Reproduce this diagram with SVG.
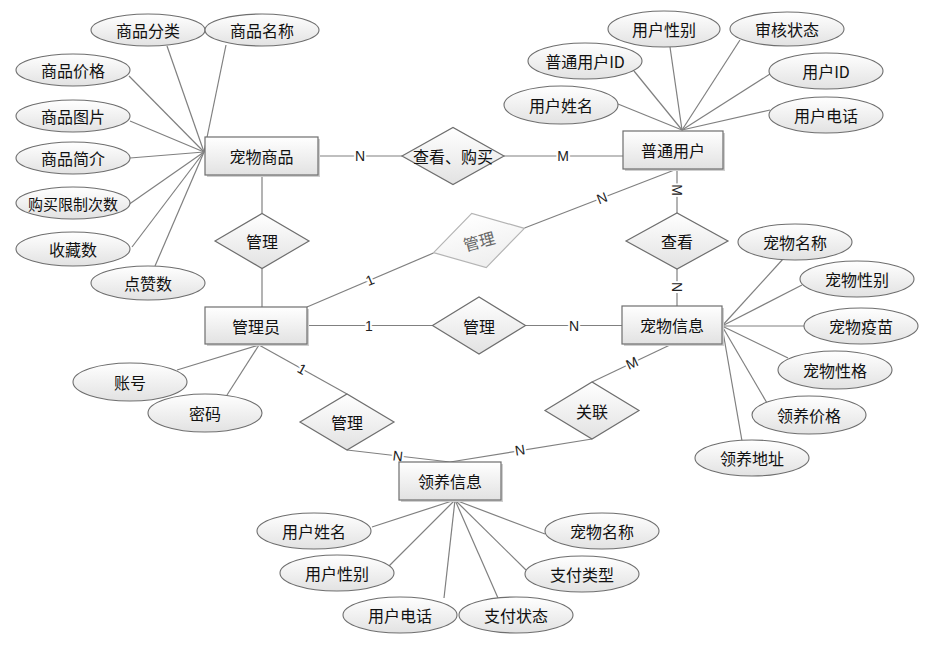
<svg xmlns="http://www.w3.org/2000/svg" width="932" height="660" viewBox="0 0 932 660">
<defs>
<linearGradient id="g" x1="0" y1="0" x2="0" y2="1">
<stop offset="0" stop-color="#ffffff"/>
<stop offset="1" stop-color="#e2e2e2"/>
</linearGradient>
<linearGradient id="g2" x1="0" y1="0" x2="0" y2="1">
<stop offset="0" stop-color="#ffffff"/>
<stop offset="1" stop-color="#eeeeee"/>
</linearGradient>
<style>
.ent rect.b{fill:url(#g);stroke:#6e6e6e;stroke-width:1.2}
.ent rect.s{fill:#cfcfcf}
.rel polygon{fill:url(#g);stroke:#6e6e6e;stroke-width:1.2}
.attr ellipse{fill:url(#g);stroke:#6e6e6e;stroke-width:1.1}
.t{font-family:"Noto Sans CJK SC","Noto Sans",sans-serif;font-size:16px;fill:#111;text-anchor:middle;dominant-baseline:central}
.conn line{stroke:#808080;stroke-width:1.2}
.lbl{font-family:"Liberation Sans",Arial,sans-serif;font-size:14px;fill:#222;text-anchor:middle;dominant-baseline:central;stroke:#fff;stroke-width:4;paint-order:stroke;stroke-linejoin:round}
</style>
</defs>
<rect width="932" height="660" fill="#fff"/>

<g id="connectors" class="conn">
<!-- goods attributes -->
<line x1="167" y1="46" x2="204" y2="152"/>
<line x1="226" y1="45" x2="204" y2="152"/>
<line x1="129" y1="76" x2="204" y2="152"/>
<line x1="130" y1="121" x2="204" y2="152"/>
<line x1="130" y1="158" x2="204" y2="152"/>
<line x1="128" y1="205" x2="204" y2="152"/>
<line x1="132" y1="247" x2="204" y2="152"/>
<line x1="155" y1="266" x2="204" y2="152"/>
<!-- user attributes -->
<line x1="670" y1="47" x2="682" y2="130"/>
<line x1="740" y1="40" x2="682" y2="130"/>
<line x1="634" y1="71" x2="682" y2="130"/>
<line x1="770" y1="74" x2="682" y2="130"/>
<line x1="618" y1="104" x2="682" y2="130"/>
<line x1="770" y1="110" x2="682" y2="130"/>
<!-- pet attributes -->
<line x1="783" y1="259" x2="722" y2="326"/>
<line x1="802" y1="285" x2="722" y2="326"/>
<line x1="804" y1="326" x2="722" y2="326"/>
<line x1="788" y1="358" x2="722" y2="326"/>
<line x1="767" y1="403" x2="722" y2="326"/>
<line x1="742" y1="441" x2="722" y2="326"/>
<!-- admin attributes -->
<line x1="177" y1="370" x2="259" y2="345"/>
<line x1="227" y1="395" x2="259" y2="345"/>
<!-- adopt attributes -->
<line x1="372" y1="527" x2="455" y2="500"/>
<line x1="389" y1="566" x2="455" y2="500"/>
<line x1="444" y1="598" x2="455" y2="500"/>
<line x1="498" y1="598" x2="455" y2="500"/>
<line x1="526" y1="570" x2="455" y2="500"/>
<line x1="545" y1="534" x2="455" y2="500"/>
<!-- relationships -->
<line x1="318" y1="156" x2="402" y2="156"/>
<line x1="504" y1="156" x2="623" y2="156"/>
<line x1="262" y1="175" x2="262" y2="213.5"/>
<line x1="262" y1="268.5" x2="262" y2="307"/>
<line x1="307" y1="307" x2="433.5" y2="253"/>
<line x1="524.5" y1="228" x2="677" y2="169"/>
<line x1="677" y1="169" x2="677" y2="213"/>
<line x1="677" y1="269" x2="677" y2="306"/>
<line x1="307" y1="325.5" x2="432.5" y2="325.5"/>
<line x1="525.5" y1="325.5" x2="622" y2="325.5"/>
<line x1="259" y1="345" x2="347" y2="394"/>
<line x1="347" y1="450" x2="450" y2="462"/>
<line x1="672" y1="344" x2="592" y2="382"/>
<line x1="592" y1="439" x2="450" y2="462"/>
<!-- cardinality labels -->
<text class="lbl" x="360" y="156">N</text>
<text class="lbl" x="563" y="156">M</text>
<text class="lbl" x="370" y="280" transform="rotate(-23 370 280)">1</text>
<text class="lbl" x="602" y="198" transform="rotate(-21 602 198)">N</text>
<text class="lbl" x="677" y="190" transform="rotate(90 677 190)">M</text>
<text class="lbl" x="677" y="287" transform="rotate(90 677 287)">N</text>
<text class="lbl" x="369" y="325.5">1</text>
<text class="lbl" x="574" y="325.5">N</text>
<text class="lbl" x="302" y="369" transform="rotate(29 302 369)">1</text>
<text class="lbl" x="398" y="456" transform="rotate(7 398 456)">N</text>
<text class="lbl" x="632" y="363" transform="rotate(-25 632 363)">M</text>
<text class="lbl" x="520" y="450" transform="rotate(-9 520 450)">N</text>
</g>

<!-- entities -->
<g id="e_goods" class="ent"><rect class="s" x="207" y="139" width="113" height="38"/><rect class="b" x="205" y="137" width="113" height="38"/><text class="t" x="261.5" y="156">宠物商品</text></g>
<g id="e_user" class="ent"><rect class="s" x="625" y="133" width="100" height="38"/><rect class="b" x="623" y="131" width="100" height="38"/><text class="t" x="673" y="150">普通用户</text></g>
<g id="e_admin" class="ent"><rect class="s" x="207" y="309" width="102" height="37"/><rect class="b" x="205" y="307" width="102" height="37"/><text class="t" x="256" y="325.5">管理员</text></g>
<g id="e_pet" class="ent"><rect class="s" x="624" y="308" width="100" height="38"/><rect class="b" x="622" y="306" width="100" height="38"/><text class="t" x="672" y="325">宠物信息</text></g>
<g id="e_adopt" class="ent"><rect class="s" x="401" y="464" width="102" height="38"/><rect class="b" x="399" y="462" width="102" height="38"/><text class="t" x="450" y="481">领养信息</text></g>

<!-- relationships -->
<g id="r_buy" class="rel"><polygon points="402,156 453,127.5 504,156 453,184.5"/><text class="t" x="453" y="156">查看、购买</text></g>
<g id="r_manage_goods" class="rel"><polygon points="215,241 262,213.5 309,241 262,268.5"/><text class="t" x="262" y="241">管理</text></g>
<g id="r_manage_user" transform="rotate(-15 479 240.5)"><polygon points="432,240.5 479,212.5 526,240.5 479,268.5" fill="url(#g2)" stroke="#b4b4b4" stroke-width="1.2"/><text class="t" x="479" y="240.5" style="fill:#666">管理</text></g>
<g id="r_view" class="rel"><polygon points="626,241 677,213 728,241 677,269"/><text class="t" x="677" y="241">查看</text></g>
<g id="r_manage_pet" class="rel"><polygon points="432.5,325.5 479,297 525.5,325.5 479,354"/><text class="t" x="479" y="325.5">管理</text></g>
<g id="r_manage_adopt" class="rel"><polygon points="300,422 347,394 394,422 347,450"/><text class="t" x="347" y="422">管理</text></g>
<g id="r_relate" class="rel"><polygon points="545,410.5 592,382 639,410.5 592,439"/><text class="t" x="592" y="410.5">关联</text></g>

<!-- goods attributes -->
<g id="a_goods_cat" class="attr"><ellipse cx="148" cy="30" rx="57" ry="16"/><text class="t" x="148" y="30">商品分类</text></g>
<g id="a_goods_name" class="attr"><ellipse cx="262" cy="30" rx="57" ry="16"/><text class="t" x="262" y="30">商品名称</text></g>
<g id="a_goods_price" class="attr"><ellipse cx="73" cy="70" rx="57" ry="16"/><text class="t" x="73" y="70">商品价格</text></g>
<g id="a_goods_img" class="attr"><ellipse cx="73" cy="116" rx="57" ry="16"/><text class="t" x="73" y="116">商品图片</text></g>
<g id="a_goods_desc" class="attr"><ellipse cx="73" cy="158" rx="57" ry="16"/><text class="t" x="73" y="158">商品简介</text></g>
<g id="a_goods_limit" class="attr"><ellipse cx="73" cy="203" rx="57" ry="16"/><text class="t" x="73" y="203" style="font-size:15px">购买限制次数</text></g>
<g id="a_goods_fav" class="attr"><ellipse cx="73" cy="249" rx="57" ry="17"/><text class="t" x="73" y="249">收藏数</text></g>
<g id="a_goods_like" class="attr"><ellipse cx="148" cy="283" rx="57" ry="17"/><text class="t" x="148" y="283">点赞数</text></g>

<!-- user attributes -->
<g id="a_user_gender" class="attr"><ellipse cx="664" cy="29" rx="56" ry="18"/><text class="t" x="664" y="29">用户性别</text></g>
<g id="a_user_audit" class="attr"><ellipse cx="787" cy="29" rx="57" ry="17"/><text class="t" x="787" y="29">审核状态</text></g>
<g id="a_user_nid" class="attr"><ellipse cx="585" cy="61" rx="57" ry="18"/><text class="t" x="585" y="61">普通用户ID</text></g>
<g id="a_user_id" class="attr"><ellipse cx="826" cy="71" rx="57" ry="18"/><text class="t" x="826" y="71">用户ID</text></g>
<g id="a_user_name" class="attr"><ellipse cx="561" cy="105" rx="57" ry="19"/><text class="t" x="561" y="105">用户姓名</text></g>
<g id="a_user_phone" class="attr"><ellipse cx="826" cy="115" rx="57" ry="18"/><text class="t" x="826" y="115">用户电话</text></g>

<!-- pet attributes -->
<g id="a_pet_name" class="attr"><ellipse cx="795" cy="242" rx="57" ry="18"/><text class="t" x="795" y="242">宠物名称</text></g>
<g id="a_pet_gender" class="attr"><ellipse cx="857" cy="279" rx="57" ry="18"/><text class="t" x="857" y="279">宠物性别</text></g>
<g id="a_pet_vaccine" class="attr"><ellipse cx="861" cy="326" rx="57" ry="18"/><text class="t" x="861" y="326">宠物疫苗</text></g>
<g id="a_pet_char" class="attr"><ellipse cx="835" cy="370" rx="57" ry="19"/><text class="t" x="835" y="370">宠物性格</text></g>
<g id="a_pet_price" class="attr"><ellipse cx="809" cy="415" rx="57" ry="19"/><text class="t" x="809" y="415">领养价格</text></g>
<g id="a_pet_addr" class="attr"><ellipse cx="752" cy="458" rx="57" ry="18"/><text class="t" x="752" y="458">领养地址</text></g>

<!-- admin attributes -->
<g id="a_admin_acc" class="attr"><ellipse cx="130" cy="382" rx="57" ry="19"/><text class="t" x="130" y="382">账号</text></g>
<g id="a_admin_pwd" class="attr"><ellipse cx="205" cy="413" rx="57" ry="19"/><text class="t" x="205" y="413">密码</text></g>

<!-- adopt attributes -->
<g id="a_adopt_uname" class="attr"><ellipse cx="314" cy="531" rx="57" ry="18"/><text class="t" x="314" y="531">用户姓名</text></g>
<g id="a_adopt_ugender" class="attr"><ellipse cx="337" cy="573" rx="57" ry="18"/><text class="t" x="337" y="573">用户性别</text></g>
<g id="a_adopt_uphone" class="attr"><ellipse cx="400" cy="615" rx="57" ry="18"/><text class="t" x="400" y="615">用户电话</text></g>
<g id="a_adopt_paystate" class="attr"><ellipse cx="516" cy="615" rx="57" ry="18"/><text class="t" x="516" y="615">支付状态</text></g>
<g id="a_adopt_paytype" class="attr"><ellipse cx="582" cy="574" rx="57" ry="18"/><text class="t" x="582" y="574">支付类型</text></g>
<g id="a_adopt_petname" class="attr"><ellipse cx="602" cy="531" rx="57" ry="18"/><text class="t" x="602" y="531">宠物名称</text></g>
</svg>
